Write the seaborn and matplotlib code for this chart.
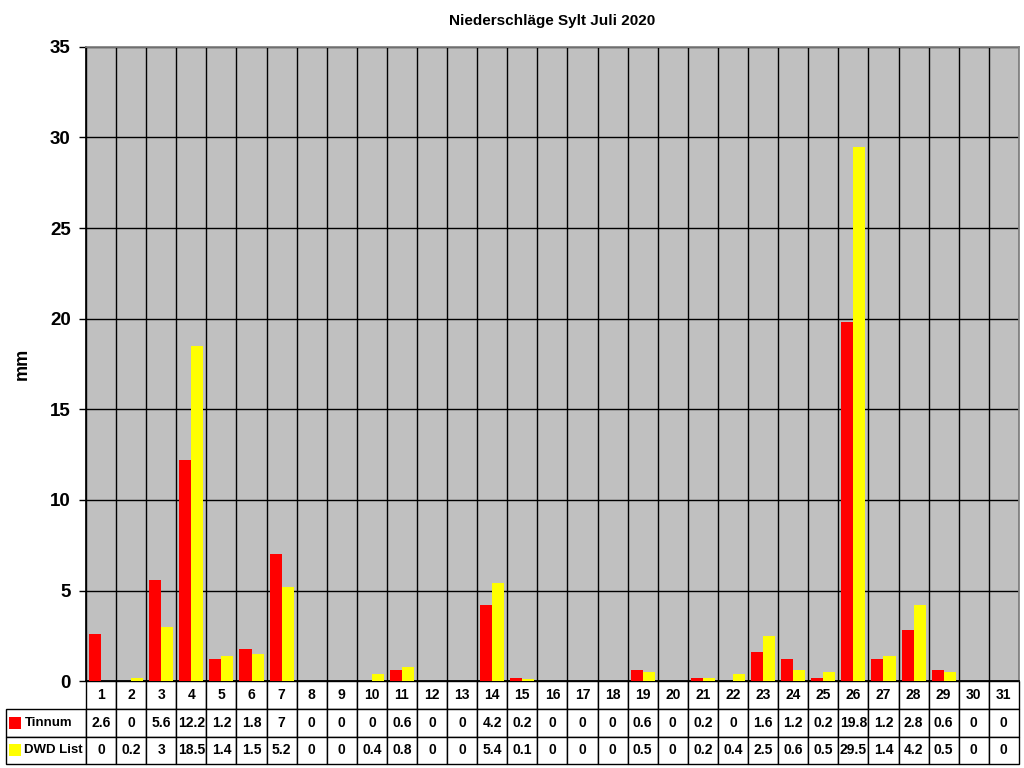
import numpy as np
import pandas as pd
import matplotlib
matplotlib.use("Agg")
import matplotlib.pyplot as plt
from matplotlib.patches import Rectangle
import seaborn as sns

# Tagesniederschläge Juli 2020 (mm)
tage = list(range(1, 32))
tinnum = [2.6, 0, 5.6, 12.2, 1.2, 1.8, 7, 0, 0, 0, 0.6, 0, 0, 4.2, 0.2, 0,
          0, 0, 0.6, 0, 0.2, 0, 1.6, 1.2, 0.2, 19.8, 1.2, 2.8, 0.6, 0, 0]
dwd_list = [0, 0.2, 3, 18.5, 1.4, 1.5, 5.2, 0, 0, 0.4, 0.8, 0, 0, 5.4, 0.1, 0,
            0, 0, 0.5, 0, 0.2, 0.4, 2.5, 0.6, 0.5, 29.5, 1.4, 4.2, 0.5, 0, 0]
stationen = ["Tinnum", "DWD List"]
farben = ["#FF0000", "#FFFF00"]

df = pd.DataFrame({
    "Tag": tage * 2,
    "Station": [stationen[0]] * len(tage) + [stationen[1]] * len(tage),
    "mm": tinnum + dwd_list,
})

sns.set_theme(style="white")
plt.rcParams['font.family'] = ['Liberation Sans', 'DejaVu Sans']
plt.rcParams['text.color'] = 'black'
plt.rcParams['axes.labelcolor'] = 'black'
plt.rcParams['xtick.color'] = 'black'
plt.rcParams['ytick.color'] = 'black'

fig = plt.figure(figsize=(10.24, 7.68), dpi=100)
ax = fig.add_axes([0.084, 0.113, 0.911, 0.826])

sns.barplot(data=df, x="Tag", y="mm", hue="Station", palette=farben,
            saturation=1, width=0.8, gap=0, linewidth=0, ax=ax,
            legend=False, zorder=3)

ax.set_facecolor("#C0C0C0")
ax.set_ylim(0, 35)
ax.set_yticks(np.arange(0, 36, 5))
ax.set_xlim(-0.5, len(tage) - 0.5)
ax.set_xticks([])
ax.set_xticks(np.arange(-0.5, len(tage), 1), minor=True)
ax.tick_params(axis="x", which="both", length=0, labelbottom=False)
ax.tick_params(axis="y", length=5, width=1, color="black", direction="out",
               labelsize=13.5, left=True, pad=6)
for lbl in ax.get_yticklabels():
    lbl.set_fontweight("bold")
ax.grid(axis="y", color="black", linewidth=1, zorder=1)
ax.grid(axis="x", which="minor", color="black", linewidth=1, zorder=1)
ax.set_axisbelow(True)
ax.set_xlabel("")
ax.set_ylabel("mm", fontsize=13, fontweight="bold", labelpad=14)

ax.spines["left"].set_color("black")
ax.spines["bottom"].set_color("black")
ax.spines["top"].set_color("#808080")
ax.spines["right"].set_color("#808080")

ax.set_title("Niederschläge Sylt Juli 2020", fontsize=11, fontweight="bold", pad=16)

# Datentabelle unter dem Diagramm
ax_w = 0.911 * 1024
ax_h = 0.826 * 768
lab_w = 80
tab_h = 83
zellen = [[""] + [str(t) for t in tage],
          [stationen[0]] + [f"{v:g}" for v in tinnum],
          [stationen[1]] + [f"{v:g}" for v in dwd_list]]
spalten = [lab_w] + [ax_w / len(tage)] * len(tage)
gesamt = sum(spalten)
tab = ax.table(cellText=zellen, colWidths=[w / gesamt for w in spalten],
               cellLoc="center",
               bbox=[-lab_w / ax_w, -tab_h / ax_h, gesamt / ax_w, tab_h / ax_h])
tab.auto_set_font_size(False)
for (r, c), cell in tab.get_celld().items():
    cell.set_linewidth(1)
    cell.set_edgecolor("black")
    cell.get_text().set_fontsize(10)
    cell.get_text().set_fontweight("bold")
    cell.get_text().set_color("black")
    if r == 0 and c == 0:
        cell.visible_edges = ""
    if c == 0 and r > 0:
        cell.get_text().set_horizontalalignment("left")
        cell.get_text().set_fontsize(9.5)
        cell.PAD = 0.23

# Farbmarken vor den Zeilenbeschriftungen
for i, f in enumerate(farben):
    y0 = -(tab_h / 3 * (i + 1) + tab_h / 3 * 0.5 + 6) / ax_h
    ax.add_patch(Rectangle((-(lab_w - 3) / ax_w, y0), 12 / ax_w, 12 / ax_h,
                           transform=ax.transAxes, facecolor=f,
                           edgecolor="none", clip_on=False, zorder=5))

fig.savefig("out.png", dpi=100)
